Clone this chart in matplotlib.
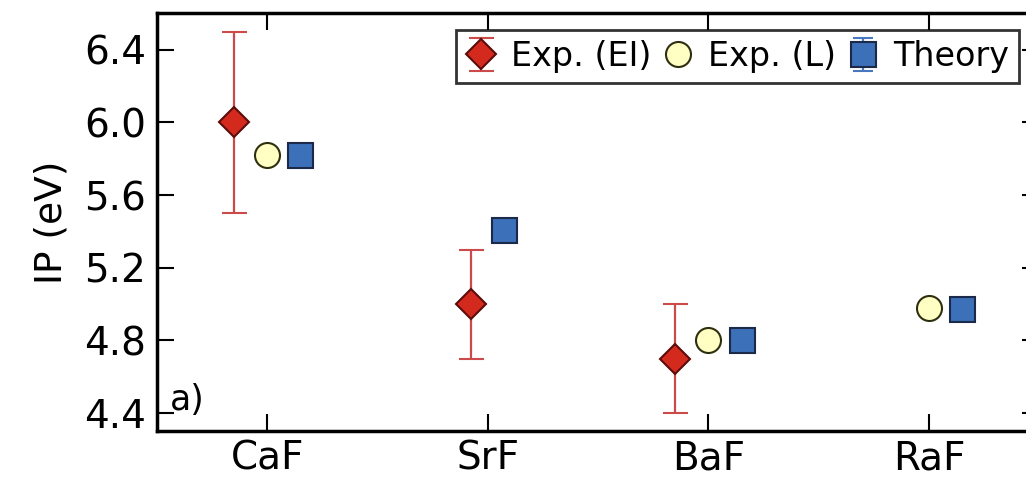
import numpy as np
import matplotlib.pyplot as plt

# 电离能数据 (eV)
molecules = ["CaF", "SrF", "BaF", "RaF"]
ip_exp_ei = [6.0, 5.0, 4.7, np.nan]
ip_exp_ei_err = [0.5, 0.3, 0.3, np.nan]
ip_exp_l = [5.82, np.nan, 4.80, 4.98]
ip_theory = [5.82, 5.41, 4.80, 4.97]
ip_theory_err = [0.01, 0.01, 0.01, 0.01]

# 每组内部的横向偏移
off_ei = [-0.15, -0.075, -0.15, 0.0]
off_l = [0.0, 0.0, 0.0, 0.0]
off_th = [0.15, 0.075, 0.15, 0.15]

plt.rcParams["font.family"] = ["DejaVu Sans"]

x = np.arange(len(molecules))

fig = plt.figure(figsize=(10.26, 4.78), dpi=100)
ax = fig.add_axes([0.153, 0.098, 0.86, 0.874])

h_ei = ax.errorbar(x + np.array(off_ei), ip_exp_ei, yerr=ip_exp_ei_err, fmt="D",
                   ms=15, mfc="#d42a1e", mec="#5a0d0a", mew=1.5,
                   ecolor="#cc4a4a", elinewidth=1.6, capsize=9, capthick=1.6,
                   label="Exp. (EI)", zorder=3)
h_l, = ax.plot(x + np.array(off_l), ip_exp_l, "o", ms=18, mfc="#ffffc4",
               mec="#2e2e10", mew=1.5, label="Exp. (L)", zorder=3)
h_th = ax.errorbar(x + np.array(off_th), ip_theory, yerr=ip_theory_err, fmt="s",
                   ms=18, mfc="#3c70b8", mec="#1b2a48", mew=1.5,
                   ecolor="#4a78c0", elinewidth=1.6, capsize=7, capthick=1.6,
                   label="Theory", zorder=3)

ax.set_xlim(-0.5, 3.5)
ax.set_ylim(4.3, 6.6)
ax.set_xticks(x)
ax.set_xticklabels(molecules)
ax.set_yticks([4.4, 4.8, 5.2, 5.6, 6.0, 6.4])
ax.set_ylabel("IP (eV)", fontsize=27, labelpad=10)
ax.tick_params(direction="in", length=12, width=1.5, labelsize=28,
               top=True, right=True, pad=8)
ax.tick_params(axis="x", pad=6)
for s in ax.spines.values():
    s.set_linewidth(2.5)

ax.text(0.015, 0.05, "a)", transform=ax.transAxes, fontsize=25)

leg = ax.legend([h_ei, h_l, h_th], ["Exp. (EI)", "Exp. (L)", "Theory"],
                loc="upper right", bbox_to_anchor=(0.977, 0.96), ncol=3,
                fontsize=24, frameon=True, fancybox=False, edgecolor="black",
                handlelength=0.9, handletextpad=0.45, columnspacing=0.35,
                borderpad=0.3, borderaxespad=0.0, numpoints=1)
leg.get_frame().set_linewidth(2)

fig.savefig("out.png", dpi=100)
